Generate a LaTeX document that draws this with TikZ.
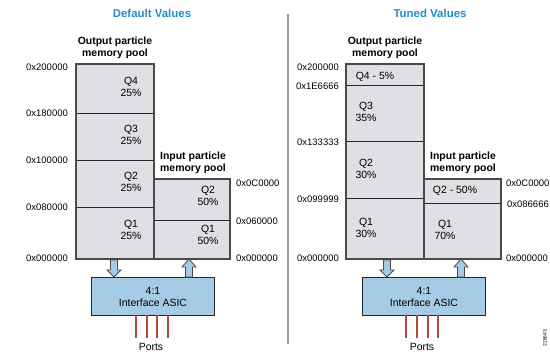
\documentclass[tikz,border=0pt]{standalone}
\usepackage{fontspec}
\setmainfont{Liberation Sans}
\definecolor{poolgray}{HTML}{DFE0E3}
\definecolor{edgegray}{HTML}{4A4A4A}
\definecolor{asicblue}{HTML}{A6CBE5}
\definecolor{titleblue}{HTML}{1F8DD0}
\definecolor{portred}{HTML}{B3483B}
\begin{document}
\begin{tikzpicture}[x=1bp,y=-1bp,
  seg/.style={draw=black!85, line width=0.7bp, fill=poolgray, inner sep=0, outer sep=0, anchor=north west},
  outline/.style={draw=edgegray, line width=1.3bp},
  qtext/.style={align=center, font=\fontsize{10.5}{12}\selectfont, inner sep=0},
  addr/.style={font=\fontsize{9.5}{11}\selectfont, inner sep=0},
  pooltitle/.style={align=center, font=\fontsize{10.5}{12}\bfseries\selectfont, inner sep=0},
  paneltitle/.style={font=\fontsize{11.5}{13}\bfseries\selectfont, text=titleblue, inner sep=0},
  asic/.style={draw=black!85, line width=1bp, fill=asicblue, align=center, inner sep=0,
    minimum width=123bp, minimum height=38bp, anchor=north west, font=\fontsize{10.5}{12}\selectfont},
  arrowbody/.style={draw=edgegray, line width=0.8bp, fill=asicblue, line join=miter},
  port/.style={draw=portred, line width=1.4bp},
  downarrow/.pic={\path[arrowbody] (-3.5,0) -- (3.5,0) -- (3.5,10) -- (7,10) -- (0,17) -- (-7,10) -- (-3.5,10) -- cycle;},
  uparrow/.pic={\path[arrowbody] (-3.5,18) -- (3.5,18) -- (3.5,8) -- (7,8) -- (0,0) -- (-7,8) -- (-3.5,8) -- cycle;}
]
\useasboundingbox (0,0) rectangle (550,359);

% ---------------- Default values ----------------
\node[paneltitle] (titleL) at (152,13) {Default Values};
\node[pooltitle] (outL) at (115,48) {Output particle\\memory pool};
\node[pooltitle] (inL) at (193,163) {Input particle\\memory pool};

% output pool
\node[seg, minimum width=78bp, minimum height=49bp] (oq4L) at (76,64) {};
\node[seg, minimum width=78bp, minimum height=47bp] (oq3L) at (76,113) {};
\node[seg, minimum width=78bp, minimum height=47bp] (oq2L) at (76,160) {};
\node[seg, minimum width=78bp, minimum height=52bp] (oq1L) at (76,207) {};
% input pool
\node[seg, minimum width=76bp, minimum height=41bp] (iq2L) at (154,179) {};
\node[seg, minimum width=76bp, minimum height=39bp] (iq1L) at (154,220) {};
\draw[outline] (76,64) rectangle (154,259);
\draw[outline] (154,179) rectangle (230,259);

\node[qtext] (tq4L) at (131,87) {Q4\\25\%};
\node[qtext] (tq3L) at (131,135) {Q3\\25\%};
\node[qtext] (tq2L) at (131,182) {Q2\\25\%};
\node[qtext] (tq1L) at (131,230) {Q1\\25\%};
\node[qtext] (tiq2L) at (208,196) {Q2\\50\%};
\node[qtext] (tiq1L) at (208,235) {Q1\\50\%};

\node[addr, anchor=east] (a1L) at (68,67) {0x200000};
\node[addr, anchor=east] (a2L) at (68,113) {0x180000};
\node[addr, anchor=east] (a3L) at (68,160) {0x100000};
\node[addr, anchor=east] (a4L) at (68,207) {0x080000};
\node[addr, anchor=east] (a5L) at (68,258) {0x000000};
\node[addr, anchor=west] (b1L) at (236,183) {0x0C0000};
\node[addr, anchor=west] (b2L) at (236,221) {0x060000};
\node[addr, anchor=west] (b3L) at (236,258) {0x000000};

\node[asic] (asicL) at (91,277) {4:1\\Interface ASIC};
\pic at (114,260) {downarrow};
\pic at (189,259) {uparrow};
\foreach \px in {136,147,157,168} \draw[port] (\px,315) -- (\px,338);
\node[qtext] (portsL) at (151,347) {Ports};

% divider
\draw[draw=gray!80, line width=1.3bp] (288,14) -- (288,344);

% ---------------- Tuned values ----------------
\node[paneltitle] (titleR) at (430,13) {Tuned Values};
\node[pooltitle] (outR) at (385,48) {Output particle\\memory pool};
\node[pooltitle] (inR) at (463,163) {Input particle\\memory pool};

\node[seg, minimum width=78bp, minimum height=21bp] (oq4R) at (346,64) {};
\node[seg, minimum width=78bp, minimum height=56bp] (oq3R) at (346,85) {};
\node[seg, minimum width=78bp, minimum height=57bp] (oq2R) at (346,141) {};
\node[seg, minimum width=78bp, minimum height=61bp] (oq1R) at (346,198) {};
\node[seg, minimum width=77bp, minimum height=24bp] (iq2R) at (424,179) {};
\node[seg, minimum width=77bp, minimum height=56bp] (iq1R) at (424,203) {};
\draw[outline] (346,64) rectangle (424,259);
\draw[outline] (424,179) rectangle (501,259);

\node[qtext] (tq4R) at (375,77) {Q4 - 5\%};
\node[qtext] (tq3R) at (366,112) {Q3\\35\%};
\node[qtext] (tq2R) at (366,169) {Q2\\30\%};
\node[qtext] (tq1R) at (366,228) {Q1\\30\%};
\node[qtext] (tiq2R) at (455,191) {Q2 - 50\%};
\node[qtext] (tiq1R) at (445,230) {Q1\\70\%};

\node[addr, anchor=east] (a1R) at (339,67) {0x200000};
\node[addr, anchor=east] (a2R) at (339,86) {0x1E6666};
\node[addr, anchor=east] (a3R) at (339,142) {0x133333};
\node[addr, anchor=east] (a4R) at (339,199) {0x099999};
\node[addr, anchor=east] (a5R) at (339,258) {0x000000};
\node[addr, anchor=west] (b1R) at (506,183) {0x0C0000};
\node[addr, anchor=west] (b2R) at (507,204) {0x086666};
\node[addr, anchor=west] (b3R) at (506,258) {0x000000};

\node[asic] (asicR) at (362,277) {4:1\\Interface ASIC};
\pic at (387,260) {downarrow};
\pic at (461,259) {uparrow};
\foreach \px in {406,417,428,438} \draw[port] (\px,315) -- (\px,338);
\node[qtext] (portsR) at (422,347) {Ports};

\node[rotate=90, font=\fontsize{5}{6}\selectfont, inner sep=0] (figid) at (545,338) {228643};
\end{tikzpicture}
\end{document}
